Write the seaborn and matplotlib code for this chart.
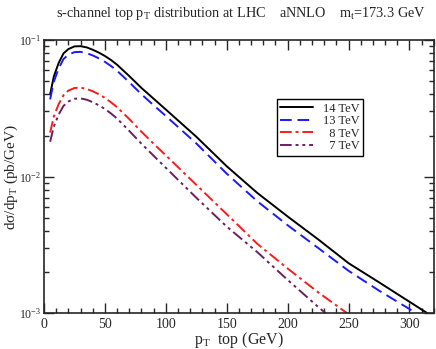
import matplotlib
matplotlib.use("Agg")
import matplotlib.pyplot as plt
import seaborn as sns
import pandas as pd
from matplotlib.ticker import MultipleLocator, LogLocator, NullFormatter

# %%
pt = [5, 8, 12, 16, 20, 25, 30, 35, 40, 45, 50, 55, 60, 70, 80, 90, 100,
      125, 150, 175, 200, 225, 250, 275, 300, 320]
tev14 = [0.040, 0.054, 0.068, 0.080, 0.086, 0.090, 0.0903, 0.0885, 0.085,
         0.081, 0.0765, 0.0715, 0.066, 0.0545, 0.0446, 0.0372, 0.031,
         0.0196, 0.0119, 0.0076, 0.0051, 0.00347, 0.00232, 0.00168,
         0.00121, 0.00093]
tev13 = [0.0368, 0.0495, 0.062, 0.0728, 0.0782, 0.0817, 0.082, 0.0803,
         0.0772, 0.0735, 0.0693, 0.0646, 0.0596, 0.0491, 0.0401, 0.0333,
         0.0278, 0.0175, 0.0105, 0.0066, 0.0044, 0.0030, 0.00204, 0.00146,
         0.00107, 0.00083]
tev8 = [0.021, 0.0275, 0.034, 0.0395, 0.0427, 0.0446, 0.0448, 0.0439,
        0.0422, 0.0401, 0.0377, 0.0350, 0.0322, 0.0264, 0.0213, 0.0174,
        0.0143, 0.0087, 0.0053, 0.00322, 0.00212, 0.00142, 0.00098,
        0.00068, 0.00048, 0.00036]
tev7 = [0.018, 0.0232, 0.0285, 0.033, 0.0355, 0.0372, 0.0374, 0.0366,
        0.0351, 0.0333, 0.0313, 0.0290, 0.0266, 0.0216, 0.0174, 0.0142,
        0.0116, 0.0070, 0.0043, 0.0028, 0.00175, 0.00111, 0.00072,
        0.00046, 0.00030, 0.00022]

series = [
    ("14 TeV", tev14, "black", "-"),
    ("13 TeV", tev13, "#1a1aff", (0, (6, 3))),
    ("  8 TeV", tev8, "#ff1a1a", (0, (6, 2, 1.5, 2))),
    ("  7 TeV", tev7, "#6b1f5f", (0, (6, 2, 1.5, 2, 1.5, 2))),
]

# %%
sns.set_style("ticks")
plt.rcParams["font.family"] = ["Liberation Serif", "DejaVu Serif"]
plt.rcParams["mathtext.fontset"] = "custom"
plt.rcParams["mathtext.rm"] = "Liberation Serif"
plt.rcParams["mathtext.it"] = "Liberation Serif"

fig = plt.figure(figsize=(4.36, 3.49), dpi=100)
ax = fig.add_axes([0.101, 0.103, 0.894, 0.782])

for label, vals, color, ls in series:
    df = pd.DataFrame({"pt": pt, "y": vals})
    sns.lineplot(data=df, x="pt", y="y", ax=ax, color=color, linestyle=ls,
                 linewidth=1.4, label=label)

ax.set_yscale("log")
ax.set_xlim(0, 320)
ax.set_ylim(1e-3, 1e-1)
ax.xaxis.set_major_locator(MultipleLocator(50))
ax.xaxis.set_minor_locator(MultipleLocator(10))
ax.yaxis.set_minor_locator(LogLocator(base=10, subs=range(2, 10)))
ax.yaxis.set_minor_formatter(NullFormatter())
ax.tick_params(which="both", direction="in", top=True, right=True,
               labelsize=10, width=1.0)
ax.tick_params(axis="y", labelsize=8.5, pad=2)
ax.tick_params(which="major", length=7)
ax.tick_params(which="minor", length=3.5)
for sp in ax.spines.values():
    sp.set_linewidth(1.2)

ax.set_xlabel(r"p$_\mathrm{T}$  top (GeV)", fontsize=11.5)
ax.set_ylabel(r"d$\sigma$/dp$_\mathrm{T}$ (pb/GeV)", fontsize=11)
ax.xaxis.set_label_coords(0.5, -0.062)
ax.yaxis.set_label_coords(-0.062, 0.5)
fig.suptitle(r"s-channel top p$_\mathrm{T}$ distribution at LHC    aNNLO    "
             r"m$_\mathrm{t}$=173.3 GeV", fontsize=10.3, x=0.552, y=0.985)

ax.legend(loc="upper left", bbox_to_anchor=(0.597, 0.785), fontsize=9,
          handlelength=2.6, frameon=True, fancybox=False, edgecolor="black",
          framealpha=1, borderpad=0.3, labelspacing=0.05, handletextpad=0.8,
          borderaxespad=0)
ax.get_legend().get_frame().set_linewidth(1.0)

fig.savefig("out.png", dpi=100)
